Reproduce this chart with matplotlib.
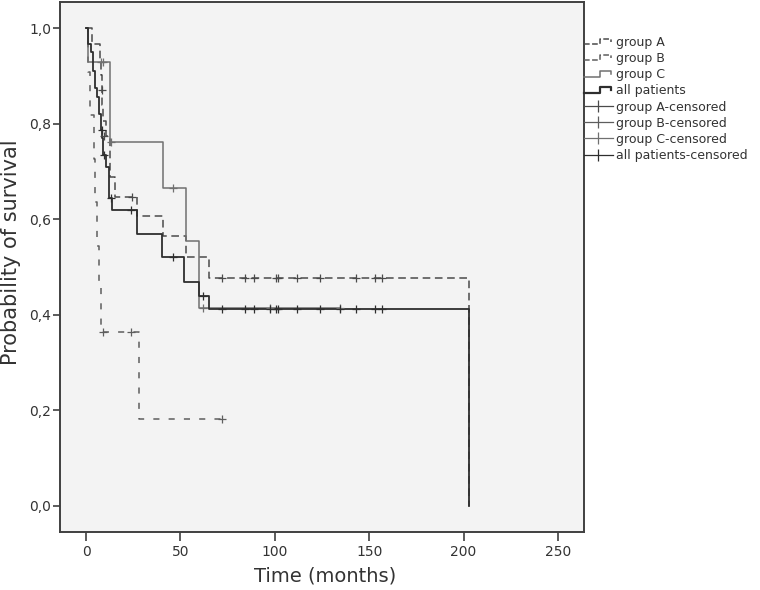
import matplotlib
matplotlib.use("Agg")
import matplotlib.pyplot as plt
from matplotlib.lines import Line2D
from matplotlib.legend_handler import HandlerBase
from matplotlib.ticker import FuncFormatter

# ---------------- data ----------------
# Kaplan-Meier step curves: event times and survival after each time
a_times = [0, 3, 7.5, 8.0, 8.2, 8.6, 9.0, 10.5, 12.5, 15.4, 27, 41, 53, 65, 203]
a_surv = [1.0, 0.968, 0.935, 0.903, 0.871, 0.839, 0.806, 0.774, 0.689, 0.647,
          0.607, 0.565, 0.520, 0.476, 0.0]
a_cens_t = [8.5, 9.5, 24.6, 72, 84, 89, 100.6, 101.5, 112, 124, 143, 153, 157]
a_cens_s = [0.871, 0.774, 0.647, 0.476, 0.476, 0.476, 0.476, 0.476, 0.476,
            0.476, 0.476, 0.476, 0.476]

b_times = [0, 1, 2, 4, 5, 6, 7, 8, 28, 72]
b_surv = [1.0, 0.909, 0.818, 0.727, 0.636, 0.545, 0.455, 0.364, 0.182, 0.182]
b_cens_t = [9, 24, 72]
b_cens_s = [0.364, 0.364, 0.182]

c_times = [0, 1, 12.5, 41, 53, 60, 134.5]
c_surv = [1.0, 0.929, 0.761, 0.666, 0.555, 0.415, 0.415]
c_cens_t = [8, 9.2, 13, 46, 62, 97.5, 134.5]
c_cens_s = [0.929, 0.929, 0.761, 0.666, 0.415, 0.415, 0.415]

all_times = [0, 1.2, 2.5, 3.5, 5, 6, 7, 8, 8.6, 9, 10.5, 12, 13.5, 27, 40, 52,
             60, 65, 203]
all_surv = [1.0, 0.968, 0.95, 0.91, 0.874, 0.855, 0.82, 0.787, 0.77, 0.734,
            0.71, 0.644, 0.62, 0.57, 0.52, 0.468, 0.44, 0.412, 0.0]
all_cens_t = [8.3, 9.7, 13, 24, 46, 62, 72, 84, 89, 97.5, 100.6, 101.5, 112,
              124, 134.5, 143, 153, 157]
all_cens_s = [0.787, 0.734, 0.644, 0.62, 0.52, 0.44] + [0.412] * 12

labels = ["group A", "group B", "group C", "all patients",
          "group A-censored", "group B-censored", "group C-censored",
          "all patients-censored"]
x_ticks = [0, 50, 100, 150, 200, 250]
y_ticks = [0.0, 0.2, 0.4, 0.6, 0.8, 1.0]

# ---------------- styling ----------------
col_a = "#4a4a4a"
col_b = "#5e5e5e"
col_c = "#707070"
col_all = "#2e2e2e"
ls_a = (0, (5, 3))
ls_b = (0, (4, 6))

plt.rcParams["font.family"] = ["DejaVu Sans"]

fig = plt.figure(figsize=(7.6, 5.9), dpi=100)
ax = fig.add_axes([60 / 760, 58 / 590, 524 / 760, 530 / 590])
ax.set_facecolor("#f3f3f3")

ax.step(b_times, b_surv, where="post", color=col_b, lw=1.1, linestyle=ls_b)
ax.step(a_times, a_surv, where="post", color=col_a, lw=1.1, linestyle=ls_a)
ax.step(c_times, c_surv, where="post", color=col_c, lw=1.1)
ax.step(all_times, all_surv, where="post", color=col_all, lw=1.3)

mk = dict(marker="+", linestyle="none", markersize=6, markeredgewidth=0.9)
ax.plot(a_cens_t, a_cens_s, color=col_a, **mk)
ax.plot(b_cens_t, b_cens_s, color=col_b, **mk)
ax.plot(c_cens_t, c_cens_s, color=col_c, **mk)
ax.plot(all_cens_t, all_cens_s, color=col_all, **mk)

ax.set_xlim(-13.8, 263.8)
ax.set_ylim(-0.055, 1.055)
ax.set_xticks(x_ticks)
ax.set_yticks(y_ticks)
ax.yaxis.set_major_formatter(FuncFormatter(lambda v, p: f"{v:.1f}".replace(".", ",")))
ax.tick_params(axis="x", length=6.5, width=1.2, color="#404040", labelsize=10,
               labelcolor="#333333", pad=3)
ax.tick_params(axis="y", length=5, width=1.2, color="#404040", labelsize=10,
               labelcolor="#333333", pad=1.5)
for sp in ax.spines.values():
    sp.set_color("#404040")
    sp.set_linewidth(1.4)

ax.set_xlabel("Time (months)", fontsize=14, color="#333333")
ax.xaxis.set_label_coords((325 - 60) / 524, -(566 - 532) / 530)
ax.set_ylabel("Probability of survival", fontsize=15, color="#333333")
ax.yaxis.set_label_coords((21 - 60) / 524, (590 - 252 - 58) / 530)


class StepHandler(HandlerBase):
    def create_artists(self, legend, orig_handle, xdescent, ydescent, width,
                       height, fontsize, trans):
        x0 = -xdescent
        y0 = -ydescent
        lo = y0 + height * 0.2
        hi = y0 + height * 0.8
        xs = [x0, x0 + width * 0.55, x0 + width * 0.55, x0 + width * 0.95, x0 + width * 0.95]
        ys = [lo, lo, hi, hi, hi - height * 0.35]
        ln = Line2D(xs, ys, color=orig_handle.get_color(),
                    linestyle=orig_handle.get_linestyle(),
                    linewidth=orig_handle.get_linewidth(), transform=trans)
        return [ln]


h_steps = [
    Line2D([], [], color=col_a, lw=1.1, linestyle=(0, (3, 2))),
    Line2D([], [], color=col_b, lw=1.1, linestyle=(0, (2, 4))),
    Line2D([], [], color=col_c, lw=1.1),
    Line2D([], [], color=col_all, lw=1.6),
]
h_cens = [Line2D([], [], color=c, lw=0.9, marker="|", markersize=9,
                 markeredgewidth=0.9)
          for c in (col_a, col_b, col_c, col_all)]
handler_map = {h: StepHandler() for h in h_steps}
leg = fig.legend(h_steps + h_cens, labels, loc="upper left",
                 bbox_to_anchor=(584 / 760, 1 - 36 / 590), frameon=False,
                 fontsize=9, handlelength=2.3, handletextpad=0.25,
                 labelspacing=0.25, borderpad=0, borderaxespad=0,
                 handler_map=handler_map)
for t in leg.get_texts():
    t.set_color("#333333")

fig.savefig("out.png", dpi=100)
